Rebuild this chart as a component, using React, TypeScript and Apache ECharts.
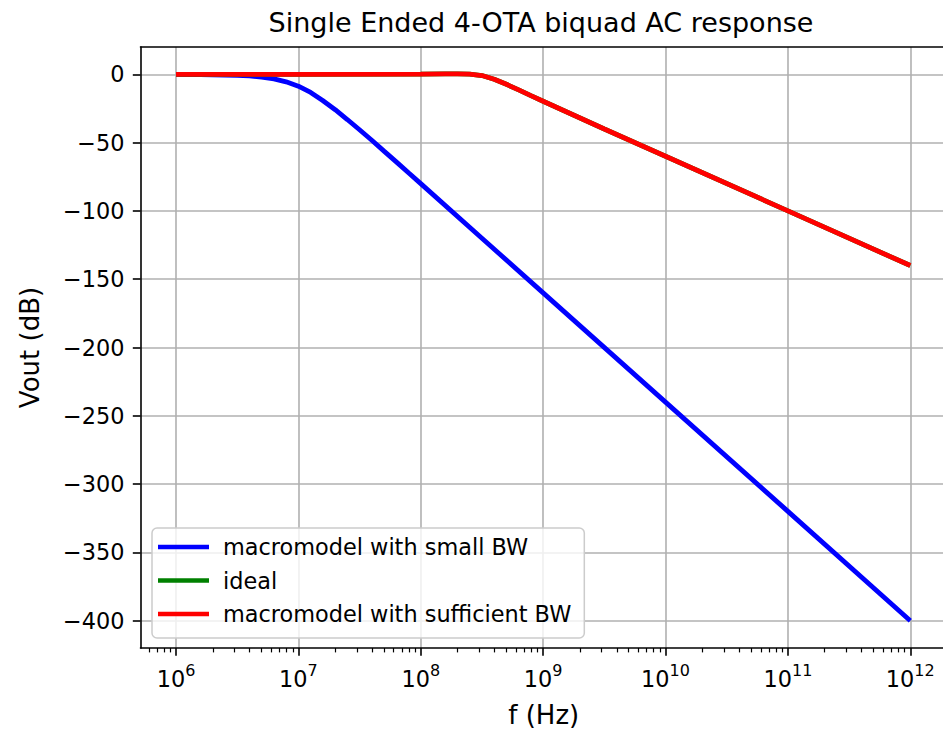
import React, { useEffect, useRef } from "react";
import * as echarts from "echarts";

const chartTitle = "Single Ended 4-OTA biquad AC response";
const xAxisName = "f (Hz)";
const yAxisName = "Vout (dB)";

const seriesNames = [
  "macromodel with small BW",
  "ideal",
  "macromodel with sufficient BW",
];
const seriesColors = ["#0000ff", "#008000", "#ff0000"];

const xMajorTicks = [1e6, 1e7, 1e8, 1e9, 1e10, 1e11, 1e12];
const minorMantissas = [2, 3, 4, 5, 6, 7, 8, 9];
const minorDecades = [1e5, 1e6, 1e7, 1e8, 1e9, 1e10, 1e11];
const yTicks = [-400, -350, -300, -250, -200, -150, -100, -50, 0];

const xMin = 512861; // 10^5.71
const xMax = 1.995e12; // 10^12.3
const yMin = -420;
const yMax = 20;

// macromodel with small BW
const freqSmallBW = [
  1e6, 1.58e6, 2.51e6, 3.16e6, 3.98e6, 5.01e6, 6.31e6, 7.94e6, 1e7, 1.26e7,
  1.58e7, 2e7, 2.51e7, 3.16e7, 3.98e7, 5.01e7, 6.31e7, 7.94e7, 1e8, 3.16e8,
  1e9, 1e10, 1e11, 1e12,
];
const voutSmallBW = [
  0, -0.2, -0.5, -0.8, -1.2, -2.0, -3.3, -5.5, -8.7, -13.3, -19.2, -25.9,
  -33.1, -40.6, -48.3, -56.2, -64.1, -72.1, -80, -120, -160, -240, -320, -400,
];

// ideal
const freqIdeal = [
  1e6, 1e7, 1e8, 1.58e8, 2e8, 2.51e8, 3.16e8, 3.98e8, 5.01e8, 6.31e8, 7.94e8,
  1e9, 3.16e9, 1e10, 1e11, 1e12,
];
const voutIdeal = [
  0, 0, 0.15, 0.3, 0.34, 0.19, -0.9, -3.6, -7.3, -11.4, -15.6, -19.7, -40,
  -60, -100, -140,
];

// macromodel with sufficient BW
const freqSufficientBW = [
  1e6, 1e7, 1e8, 1.58e8, 2e8, 2.51e8, 3.16e8, 3.98e8, 5.01e8, 6.31e8, 7.94e8,
  1e9, 3.16e9, 1e10, 1e11, 1e12,
];
const voutSufficientBW = [
  0, 0, 0.15, 0.3, 0.34, 0.19, -0.9, -3.6, -7.3, -11.4, -15.6, -19.7, -40,
  -60, -100, -140,
];

const FONT = "DejaVu Sans";
const GRID_COLOR = "#b0b0b0";

export default function App() {
  const ref = useRef<HTMLDivElement>(null);

  useEffect(() => {
    if (!ref.current) return;
    const chart = echarts.init(ref.current, null, { renderer: "svg" });

    const xMinorTicks: number[] = [];
    minorDecades.forEach((d) =>
      minorMantissas.forEach((m) => {
        const v = m * d;
        if (v > xMin && v < xMax) xMinorTicks.push(v);
      })
    );

    const pairs = (xs: number[], ys: number[]) => xs.map((x, i) => [x, ys[i]]);
    const allData = [
      pairs(freqSmallBW, voutSmallBW),
      pairs(freqIdeal, voutIdeal),
      pairs(freqSufficientBW, voutSufficientBW),
    ];

    const option: any = {
      animation: false,
      backgroundColor: "#ffffff",
      textStyle: { fontFamily: FONT },
      title: {
        text: chartTitle,
        left: 541,
        top: 9,
        padding: 0,
        textAlign: "center",
        textStyle: {
          fontFamily: FONT,
          fontSize: 27,
          fontWeight: "normal",
          color: "#000",
        },
      },
      grid: {
        left: 140.5,
        top: 47,
        width: 806.5,
        height: 601,
        containLabel: false,
        outerBoundsMode: "none",
      },
      legend: {
        orient: "vertical",
        left: 152,
        top: 528,
        icon: "rect",
        itemWidth: 51,
        itemHeight: 4.5,
        itemGap: 7.5,
        padding: [6, 13, 11, 6],
        backgroundColor: "rgba(255,255,255,0.8)",
        borderColor: "#cccccc",
        borderWidth: 1.5,
        borderRadius: 5,
        selectedMode: false,
        data: seriesNames,
        textStyle: {
          fontFamily: FONT,
          fontSize: 22.4,
          color: "#000",
          lineHeight: 26,
          padding: [0, 0, 0, 9],
        },
      },
      xAxis: [
        {
          type: "log",
          logBase: 10,
          min: xMin,
          max: xMax,
          position: "bottom",
          name: xAxisName,
          nameLocation: "middle",
          nameGap: 54,
          nameTextStyle: { fontFamily: FONT, fontSize: 26, color: "#000" },
          axisLine: { show: true, onZero: false, lineStyle: { color: "#000", width: 1.6 } },
          axisTick: {
            show: true,
            customValues: xMajorTicks,
            length: 7.7,
            lineStyle: { color: "#000", width: 1.6 },
          },
          minorTick: { show: false },
          axisLabel: {
            customValues: xMajorTicks,
            margin: 14,
            formatter: (v: number) => `{b|10}{s|${Math.round(Math.log10(v))}}`,
            rich: {
              b: { fontFamily: FONT, fontSize: 22.4, color: "#000", lineHeight: 28, verticalAlign: "bottom" },
              s: { fontFamily: FONT, fontSize: 16, color: "#000", lineHeight: 16, verticalAlign: "top" },
            },
          },
          splitLine: { show: true, lineStyle: { color: GRID_COLOR, width: 1.6 } },
        },
        {
          type: "log",
          logBase: 10,
          min: xMin,
          max: xMax,
          position: "bottom",
          axisLine: { show: false, onZero: false },
          axisTick: {
            show: true,
            customValues: xMinorTicks,
            length: 4.4,
            lineStyle: { color: "#000", width: 1.2 },
          },
          axisLabel: { show: false },
          splitLine: { show: false },
        },
        {
          type: "log",
          logBase: 10,
          min: xMin,
          max: xMax,
          position: "top",
          axisLine: { show: true, onZero: false, lineStyle: { color: "#000", width: 1.6 } },
          axisTick: { show: false },
          axisLabel: { show: false },
          splitLine: { show: false },
        },
      ],
      yAxis: [
        {
          type: "value",
          min: yMin,
          max: yMax,
          name: yAxisName,
          nameLocation: "middle",
          nameGap: 98,
          nameTextStyle: { fontFamily: FONT, fontSize: 26, color: "#000" },
          axisLine: { show: true, onZero: false, lineStyle: { color: "#000", width: 1.6 } },
          axisTick: {
            show: true,
            customValues: yTicks,
            length: 7.7,
            lineStyle: { color: "#000", width: 1.6 },
          },
          axisLabel: {
            customValues: yTicks,
            margin: 16,
            fontFamily: FONT,
            fontSize: 22.4,
            color: "#000",
            formatter: (v: number) => (v < 0 ? "\u2212" + Math.abs(v) : String(v)),
          },
          splitLine: { show: true, lineStyle: { color: GRID_COLOR, width: 1.6 } },
        },
      ],
      series: seriesNames.map((name, i) => ({
        name,
        type: "line",
        xAxisIndex: 0,
        yAxisIndex: 0,
        data: allData[i],
        showSymbol: false,
        symbol: "none",
        color: seriesColors[i],
        itemStyle: { color: seriesColors[i] },
        lineStyle: { color: seriesColors[i], width: 4.8 },
        clip: true,
        z: 2 + i,
      })),
    };

    chart.setOption(option);
    return () => chart.dispose();
  }, []);

  return (
    <div
      ref={ref}
      style={{ position: "fixed", left: 0, top: 0, width: 943, height: 733 }}
    />
  );
}
